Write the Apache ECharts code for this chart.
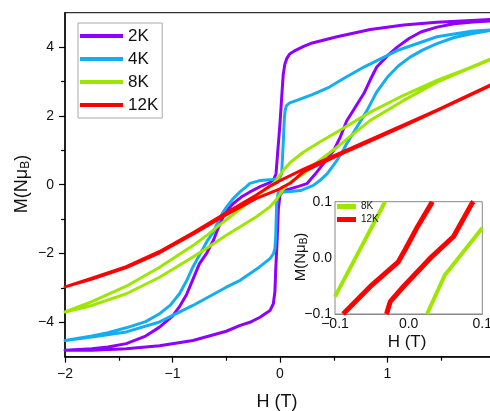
<!DOCTYPE html>
<html>
<head>
<meta charset="utf-8">
<script src="https://cdn.jsdelivr.net/npm/echarts@6/dist/echarts.min.js"></script>
<style>
html,body{margin:0;padding:0;background:#fff;}
#c{width:490px;height:411px;}
</style>
</head>
<body>
<div id="c"></div>
<script>
// ---- data (H in T, M in N·μB) ----
const names = ['2K', '4K', '8K', '12K'];
const colors = ['#8F00FF', '#14AEF0', '#9DE600', '#FF0000'];

const down2K = [[1.96,4.80],[1.78,4.77],[1.46,4.72],[1.15,4.64],[0.84,4.51],[0.53,4.30],[0.3,4.12],[0.22,4.02],[0.14,3.9],[0.09,3.8],[0.065,3.68],[0.045,3.5],[0.03,3.2],[0.015,2.5],[0.0,1.78],[-0.02,1.0],[-0.037,0.32],[-0.06,0.14],[-0.1,0.05],[-0.18,-0.05],[-0.28,-0.21],[-0.36,-0.36],[-0.44,-0.56],[-0.5,-0.78],[-0.53,-0.94],[-0.58,-1.3],[-0.62,-1.62],[-0.68,-1.98],[-0.75,-2.3],[-0.81,-2.75],[-0.87,-3.2],[-0.93,-3.52],[-1.0,-3.82],[-1.12,-4.14],[-1.25,-4.4],[-1.43,-4.62],[-1.6,-4.72],[-1.75,-4.77],[-2.0,-4.81]];
const up2K = [[-2.0,-4.83],[-1.75,-4.81],[-1.43,-4.77],[-1.12,-4.68],[-0.81,-4.53],[-0.5,-4.26],[-0.37,-4.09],[-0.28,-4.0],[-0.19,-3.86],[-0.093,-3.66],[-0.062,-3.46],[-0.047,-3.1],[-0.04,-2.49],[-0.025,-1.5],[-0.015,-0.7],[0.0,-0.3],[0.03,-0.18],[0.093,-0.12],[0.18,-0.04],[0.25,0.03],[0.32,0.28],[0.38,0.52],[0.44,0.75],[0.5,1.0],[0.56,1.38],[0.62,1.85],[0.7,2.25],[0.78,2.65],[0.84,3.05],[0.9,3.42],[1.0,3.75],[1.09,4.0],[1.2,4.25],[1.31,4.44],[1.46,4.58],[1.62,4.68],[1.8,4.73],[1.96,4.76]];

const down4K = [[1.96,4.50],[1.78,4.46],[1.46,4.30],[1.09,3.9],[0.78,3.42],[0.6,3.1],[0.46,2.84],[0.3,2.62],[0.156,2.45],[0.09,2.38],[0.06,2.3],[0.047,2.15],[0.04,1.9],[0.03,1.2],[0.02,0.6],[0.016,0.32],[0.0,0.22],[-0.03,0.17],[-0.07,0.15],[-0.19,0.12],[-0.28,0.04],[-0.31,-0.05],[-0.37,-0.2],[-0.44,-0.42],[-0.5,-0.66],[-0.53,-0.8],[-0.58,-1.1],[-0.62,-1.38],[-0.68,-1.65],[-0.72,-1.88],[-0.81,-2.39],[-0.87,-2.8],[-0.935,-3.17],[-1.02,-3.5],[-1.12,-3.75],[-1.25,-3.98],[-1.43,-4.16],[-1.6,-4.3],[-1.75,-4.4],[-2.0,-4.53]];
const up4K = [[-2.0,-4.57],[-1.75,-4.43],[-1.43,-4.28],[-1.12,-3.99],[-0.81,-3.51],[-0.5,-2.98],[-0.37,-2.78],[-0.19,-2.39],[-0.093,-2.15],[-0.06,-2.0],[-0.047,-1.85],[-0.04,-1.5],[-0.031,-0.55],[-0.016,-0.22],[0.0,-0.2],[0.1,-0.2],[0.19,-0.17],[0.31,-0.02],[0.37,0.12],[0.44,0.32],[0.53,0.71],[0.58,0.95],[0.62,1.19],[0.7,1.6],[0.81,2.16],[0.9,2.7],[1.0,3.13],[1.1,3.45],[1.21,3.71],[1.33,3.92],[1.46,4.1],[1.62,4.28],[1.78,4.39],[1.96,4.49]];

const down8K = [[1.96,3.66],[1.75,3.38],[1.46,3.03],[1.15,2.6],[0.84,2.11],[0.53,1.53],[0.37,1.24],[0.22,0.95],[0.1,0.66],[0.03,0.42],[-0.03,0.15],[-0.065,0.0],[-0.12,-0.12],[-0.22,-0.32],[-0.37,-0.71],[-0.53,-1.09],[-0.65,-1.4],[-0.81,-1.77],[-1.12,-2.4],[-1.43,-2.95],[-1.75,-3.4],[-2.0,-3.7]];
const up8K = [[-2.0,-3.72],[-1.75,-3.51],[-1.43,-3.17],[-1.12,-2.69],[-0.81,-2.1],[-0.65,-1.78],[-0.5,-1.47],[-0.37,-1.22],[-0.22,-0.93],[-0.1,-0.66],[-0.03,-0.42],[0.03,-0.14],[0.065,0.0],[0.12,0.12],[0.22,0.32],[0.37,0.71],[0.53,1.09],[0.84,1.87],[1.15,2.45],[1.46,2.98],[1.75,3.37],[1.96,3.64]];

const down12K = [[1.96,2.9],[1.46,2.17],[1.15,1.74],[0.84,1.31],[0.53,0.88],[0.22,0.45],[0.0,0.12],[-0.03,0.06],[-0.1,-0.05],[-0.22,-0.3],[-0.5,-0.82],[-0.81,-1.4],[-1.12,-1.94],[-1.43,-2.38],[-1.75,-2.72],[-2.0,-2.97]];
const up12K = [[-2.0,-2.99],[-1.75,-2.74],[-1.43,-2.41],[-1.12,-1.98],[-0.81,-1.44],[-0.5,-0.87],[-0.22,-0.4],[0.0,-0.12],[0.03,-0.06],[0.1,0.05],[0.22,0.38],[0.53,0.84],[0.84,1.27],[1.15,1.7],[1.46,2.15],[1.96,2.88]];

// inset (zoom near origin)
const inset8K_left = [[-0.1,-0.069],[-0.066,0.015],[-0.032,0.1]];
const inset8K_right = [[0.025,-0.1],[0.049,-0.031],[0.1,0.053]];
const inset12K_left = [[-0.089,-0.1],[-0.052,-0.051],[-0.014,-0.007],[-0.005,0.014],[0.011,0.053],[0.031,0.097],[0.032,0.1]];
const inset12K_right = [[-0.03,-0.1],[-0.025,-0.078],[-0.007,-0.051],[0.029,-0.001],[0.061,0.038],[0.086,0.097],[0.088,0.1]];

// tick values
const yMainMajor = [-4, -2, 0, 2, 4];
const yMainMinor = [-3, -1, 1, 3];

const FONT = 'Arial, "Liberation Sans", sans-serif';
const minus = v => (v < 0 ? '\u2212' + String(Math.abs(v)) : String(v));
const minus1 = v => (v < -1e-9 ? '\u2212' + Math.abs(v).toFixed(1) : Math.abs(v).toFixed(1));

const loops = [down2K.concat(up2K), down4K.concat(up4K), down8K.concat(up8K), down12K.concat(up12K)];

const series = names.map((n, i) => ({
  type: 'line', name: n, data: loops[i], xAxisIndex: 0, yAxisIndex: 0,
  symbol: 'none', showSymbol: false, smooth: false, clip: true,
  lineStyle: { width: 3, color: colors[i], join: 'round', cap: 'round' },
  itemStyle: { color: colors[i] }, z: 2 + i
}));
[[inset8K_left, 'in8K', colors[2], 4], [inset8K_right, 'in8K', colors[2], 4],
 [inset12K_left, 'in12K', colors[3], 5], [inset12K_right, 'in12K', colors[3], 5]].forEach(([d, n, c, w]) => {
  series.push({
    type: 'line', name: n, data: d, xAxisIndex: 1, yAxisIndex: 1,
    symbol: 'none', showSymbol: false, clip: true,
    lineStyle: { width: w, color: c }, itemStyle: { color: c }, z: 10
  });
});

const chart = echarts.init(document.getElementById('c'), null, { renderer: 'canvas' });
chart.setOption({
  animation: false,
  backgroundColor: '#fff',
  textStyle: { fontFamily: FONT },
  grid: [
    { left: 65, top: 12.7, right: -5, bottom: 54.3, show: true, borderColor: '#333', borderWidth: 1.2,
      backgroundColor: 'transparent', containLabel: false, outerBoundsMode: 'none' },
    { left: 335, top: 201.7, width: 147.3, height: 112.3, show: true, borderColor: '#888', borderWidth: 1,
      backgroundColor: '#fff', z: 8, containLabel: false, outerBoundsMode: 'none' }
  ],
  xAxis: [
    { gridIndex: 0, type: 'value', min: -2, max: 2, interval: 1,
      axisLine: { show: true, onZero: false, lineStyle: { color: '#000', width: 1.5 } },
      axisTick: { show: true, length: 6, lineStyle: { color: '#000', width: 1.2 } },
      minorTick: { show: true, splitNumber: 2, length: 4, lineStyle: { color: '#000', width: 1.2 } },
      axisLabel: { fontSize: 14, color: '#111', margin: 10, fontFamily: FONT, formatter: v => minus(v) },
      splitLine: { show: false }, minorSplitLine: { show: false } },
    { gridIndex: 1, type: 'value', min: -0.1, max: 0.1, interval: 0.1,
      axisLine: { show: true, onZero: false, lineStyle: { color: '#888', width: 1 } },
      axisTick: { show: false },
      axisLabel: { fontSize: 14, color: '#111', margin: 3, fontFamily: FONT, formatter: v => minus1(v) },
      splitLine: { show: false } }
  ],
  yAxis: [
    { gridIndex: 0, type: 'value', min: -5, max: 5, interval: 1,
      axisLine: { show: true, onZero: false, lineStyle: { color: '#000', width: 1.5 } },
      axisTick: { show: true, customValues: yMainMajor, length: 6, lineStyle: { color: '#000', width: 1.2 } },
      axisLabel: { customValues: yMainMajor, fontSize: 14, color: '#111', margin: 11, fontFamily: FONT, formatter: v => minus(v) },
      splitLine: { show: false } },
    { gridIndex: 1, type: 'value', min: -0.1, max: 0.1, interval: 0.1,
      axisLine: { show: true, onZero: false, lineStyle: { color: '#888', width: 1 } },
      axisTick: { show: false },
      axisLabel: { fontSize: 14, color: '#111', margin: 3, fontFamily: FONT, formatter: v => minus1(v) },
      splitLine: { show: false } },
    { gridIndex: 0, type: 'value', min: -5, max: 5, position: 'left', offset: 0,
      axisLine: { show: false, onZero: false },
      axisTick: { show: true, customValues: yMainMinor, length: 4, lineStyle: { color: '#000', width: 1.2 } },
      axisLabel: { show: false }, splitLine: { show: false } }
  ],
  legend: [
    { data: names, orient: 'vertical', left: 78, top: 23, width: 84,
      padding: [3, 4, 3, 2], itemGap: 3, itemWidth: 43, itemHeight: 4, icon: 'rect',
      borderColor: '#aaa', borderWidth: 1, backgroundColor: '#fff',
      textStyle: { fontSize: 17, color: '#111', lineHeight: 20, fontFamily: FONT }, selectedMode: false },
    { data: ['in8K', 'in12K'], orient: 'vertical', left: 336, top: 201, padding: [0, 0, 0, 1],
      itemGap: 2, itemWidth: 19, itemHeight: 5, icon: 'rect',
      formatter: n => n.replace('in', ''),
      textStyle: { fontSize: 10, color: '#111', lineHeight: 11, fontFamily: FONT }, selectedMode: false, z: 12 }
  ],
  graphic: [
    { type: 'text', x: 22, y: 184, rotation: Math.PI / 2, z: 20,
      style: { text: '{a|M(Nμ}{b|B}{a|)}', align: 'center', verticalAlign: 'middle', fill: '#111',
        rich: { a: { fontSize: 18, fontFamily: FONT, fill: '#111' }, b: { fontSize: 12, fontFamily: FONT, fill: '#111', padding: [8, 0, 0, 0] } } } },
    { type: 'text', x: 277, y: 402, z: 20,
      style: { text: 'H (T)', align: 'center', verticalAlign: 'middle', fontSize: 18, fontFamily: FONT, fill: '#111' } },
    { type: 'text', x: 301, y: 257, rotation: Math.PI / 2, z: 20,
      style: { text: '{a|M(Nμ}{b|B}{a|)}', align: 'center', verticalAlign: 'middle', fill: '#111',
        rich: { a: { fontSize: 15, fontFamily: FONT, fill: '#111' }, b: { fontSize: 10, fontFamily: FONT, fill: '#111', padding: [7, 0, 0, 0] } } } },
    { type: 'text', x: 407, y: 342, z: 20,
      style: { text: 'H (T)', align: 'center', verticalAlign: 'middle', fontSize: 17, fontFamily: FONT, fill: '#111' } }
  ],
  series: series
});
</script>
</body>
</html>
